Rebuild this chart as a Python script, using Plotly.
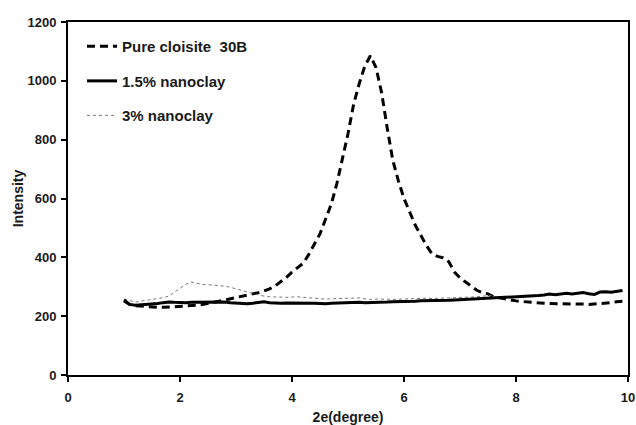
import plotly.graph_objects as go

x_vals = [round(1.0 + 0.1 * i, 1) for i in range(90)]

pure_cloisite = [252, 240, 236, 234, 232, 231, 230, 230, 231, 231,
                 232, 233, 235, 237, 240, 243, 247, 251, 255, 259,
                 263, 267, 271, 275, 280, 286, 293, 303, 316, 332,
                 350, 366, 380, 410, 446, 480, 530, 580, 650, 735,
                 820, 920, 990, 1050, 1085, 1045, 960, 840, 730, 660,
                 600, 555, 510, 475, 440, 412, 403, 398, 385, 350,
                 330, 316, 302, 288, 280, 276, 266, 262, 258, 255,
                 252, 250, 248, 246, 245, 244, 243, 243, 242, 242,
                 243, 242, 241, 240, 241, 242, 244, 246, 249, 251]

nano_15 = [255, 240, 237, 238, 240, 242, 243, 246, 248, 247,
           246, 246, 247, 247, 248, 247, 248, 249, 248, 246,
           244, 243, 242, 244, 246, 249, 246, 244, 244, 245,
           245, 246, 245, 244, 244, 243, 242, 244, 245, 246,
           246, 247, 247, 246, 246, 247, 248, 248, 249, 249,
           250, 250, 251, 252, 252, 253, 253, 254, 254, 255,
           256, 256, 257, 258, 258, 260, 262, 262, 263, 264,
           265, 265, 266, 268, 270, 272, 275, 273, 276, 278,
           275, 278, 280, 276, 274, 282, 283, 281, 285, 287]

nano_3 = [258, 252, 248, 251, 254, 256, 259, 263, 268, 282,
          295, 308, 316, 312, 308, 307, 306, 304, 302, 298,
          294, 288, 282, 277, 272, 268, 266, 265, 265, 264,
          265, 266, 264, 262, 260, 259, 258, 259, 260, 261,
          262, 263, 262, 259, 257, 258, 259, 258, 257, 258,
          258, 259, 261, 262, 261, 260, 260, 261, 262, 263,
          263, 264, 265, 266, 268, 270, 268, 264, 263, 264,
          265, 264, 265, 267, 269, 271, 273, 272, 274, 276,
          274, 276, 278, 275, 273, 280, 281, 280, 283, 285]

x_ticks = [0, 2, 4, 6, 8, 10]
y_ticks = [0, 200, 400, 600, 800, 1000, 1200]

FONT = "Liberation Sans, Arial, sans-serif"

fig = go.Figure()
fig.add_trace(go.Scatter(x=x_vals, y=pure_cloisite, mode="lines",
                         name="Pure cloisite  30B", legendgroup="a", legendrank=1,
                         line=dict(color="black", width=3, dash="8px,5px")))
fig.add_trace(go.Scatter(x=x_vals, y=nano_3, mode="lines",
                         name="3% nanoclay", legendgroup="c", legendrank=3,
                         line=dict(color="#777777", width=1, dash="dot")))
fig.add_trace(go.Scatter(x=x_vals, y=nano_15, mode="lines",
                         name="1.5% nanoclay", legendgroup="b", legendrank=2,
                         line=dict(color="black", width=3)))

fig.update_layout(
    width=636, height=425,
    margin=dict(l=68, r=8, t=22, b=50, autoexpand=False),
    paper_bgcolor="white", plot_bgcolor="white",
    font=dict(family=FONT, size=13, color="#1a1a1a"),
    legend=dict(x=0.025, y=0.977, xanchor="left", yanchor="top",
                bgcolor="rgba(0,0,0,0)", traceorder="grouped",
                tracegroupgap=12,
                font=dict(family=FONT, size=15, color="#1a1a1a", weight="bold")),
    showlegend=True,
)
fig.update_xaxes(range=[0, 10], tickvals=x_ticks, ticks="outside", ticklen=5,
                 tickwidth=2, tickcolor="black", automargin=False,
                 ticklabelstandoff=4,
                 showline=True, linecolor="black", linewidth=2, mirror=True,
                 showgrid=False, zeroline=False,
                 tickfont=dict(family=FONT, size=13, weight="bold"),
                 title=dict(text="2e(degree)", standoff=12,
                            font=dict(family=FONT, size=14, weight="bold")))
fig.update_yaxes(range=[0, 1200], tickvals=y_ticks, ticks="outside", ticklen=5,
                 tickwidth=2, tickcolor="black", automargin=False,
                 ticklabelstandoff=2,
                 showline=True, linecolor="black", linewidth=2, mirror=True,
                 showgrid=False, zeroline=False,
                 tickfont=dict(family=FONT, size=13, weight="bold"),
                 title=dict(text="Intensity", standoff=1,
                            font=dict(family=FONT, size=14, weight="bold")))

fig.write_html(
    "out.html",
    config={"displayModeBar": False},
    post_script="document.body.style.margin='0';document.body.style.overflow='hidden';",
)
